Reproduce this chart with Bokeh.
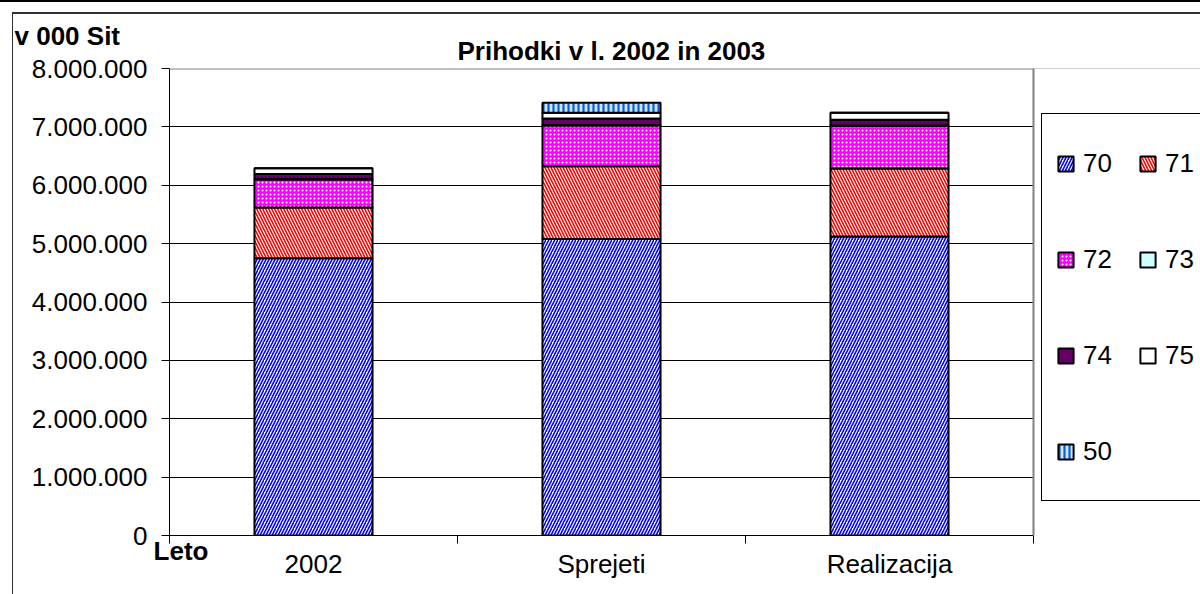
from bokeh.plotting import figure
from bokeh.models import (Range1d, FixedTicker, Legend, LegendItem, Title,
                          LinearAxis, ColumnDataSource, Span, BoxAnnotation)
from bokeh.embed import file_html
from bokeh.resources import INLINE

# ---------------- data ----------------
categories = ["2002", "Sprejeti", "Realizacija"]
series = ["70", "71", "72", "73", "74", "75", "50"]
v70 = [4750000, 5080000, 5120000]
v71 = [870000, 1245000, 1165000]
v72 = [480000, 700000, 730000]
v73 = [8000, 8000, 8000]
v74 = [85000, 110000, 100000]
v75 = [100000, 100000, 120000]
v50 = [0, 170000, 0]
y_ticks = [0, 1000000, 2000000, 3000000, 4000000, 5000000, 6000000, 7000000, 8000000]
y_tick_labels = ["0", "1.000.000", "2.000.000", "3.000.000", "4.000.000",
                 "5.000.000", "6.000.000", "7.000.000", "8.000.000"]
title_text = "Prihodki v l. 2002 in 2003"
y_unit_text = "v 000 Sit"
x_title_text = "Leto"

FONT = "Liberation Sans"

# ---------------- figure ----------------
W, H = 1200, 594
FL, FT, FB = 169, 68, 535      # plot-area edges (px)
PR = 1033                      # right edge of the plot area (px)
ncat = len(categories)
y_max = y_ticks[-1]
# the frame runs to the canvas edge so that the legend (right of the plot area) is not clipped
x_end = ncat * (W - FL) / (PR - FL)

# sheet grid line at the very top and the chart-area border, drawn as page background
bg = ("linear-gradient(#000000,#000000) 0px 0px / 100% 2px no-repeat, "
      "linear-gradient(#303030,#303030) 12px 12px / 100% 2px no-repeat, "
      "linear-gradient(#303030,#303030) 12px 12px / 1px 100% no-repeat, #ffffff")

p = figure(width=W, height=H, output_backend="svg", toolbar_location=None,
           x_range=Range1d(0, x_end), y_range=Range1d(0, y_max),
           min_border_left=FL, min_border_right=0,
           min_border_top=FT, min_border_bottom=H - FB,
           x_axis_location=None, styles={"background": bg})
p.background_fill_color = "white"
p.border_fill_color = None
p.outline_line_color = None

xpos = [i + 0.5 for i in range(ncat)]
src = ColumnDataSource(dict(x=xpos, cat=categories, **{
    "70": v70, "71": v71, "72": v72, "73": v73, "74": v74, "75": v75, "50": v50}))

fills = ["white", "white", "#FF00FF", "#CCFFFF", "#660066", "white", "#CFE6FF"]
hatches = ["/", "\\", ".", " ", " ", " ", "|"]
hcolors = ["#0000FF", "#FF0000", "white", "white", "white", "white", "#0A5ED7"]
hscales = [6, 6, 4, 6, 6, 6, 5]
hweights = [1.6, 1.6, 2.2, 1, 1, 1, 2.2]

rs = p.vbar_stack(series, x="x", width=0.41, source=src,
                  fill_color=fills, hatch_pattern=hatches, hatch_color=hcolors,
                  hatch_scale=hscales, hatch_weight=hweights,
                  line_color="black", line_width=2)

# ---------------- x axes ----------------
leto_x = 0.04
ax_leto = LinearAxis(ticker=FixedTicker(ticks=[leto_x], minor_ticks=list(range(ncat + 1))),
                     major_label_overrides={leto_x: x_title_text}, bounds=(0, ncat))
ax_leto.axis_line_color = "black"
ax_leto.major_tick_out = 0
ax_leto.major_tick_in = 0
ax_leto.minor_tick_out = 8
ax_leto.minor_tick_in = 0
ax_leto.minor_tick_line_color = "black"
ax_leto.major_label_standoff = -8
ax_leto.major_label_text_font = FONT
ax_leto.major_label_text_font_size = "26px"
ax_leto.major_label_text_font_style = "bold"
ax_leto.major_label_text_color = "black"
p.add_layout(ax_leto, "below")

ax_cat = LinearAxis(ticker=FixedTicker(ticks=xpos, minor_ticks=[]),
                    major_label_overrides={x: c for x, c in zip(xpos, categories)},
                    bounds=(0, ncat))
ax_cat.axis_line_color = None
ax_cat.major_tick_line_color = None
ax_cat.minor_tick_line_color = None
ax_cat.major_tick_out = 0
ax_cat.major_tick_in = 0
ax_cat.major_label_standoff = -20
ax_cat.major_label_text_font = FONT
ax_cat.major_label_text_font_size = "26px"
ax_cat.major_label_text_color = "black"
p.add_layout(ax_cat, "below")

# ---------------- y axis ----------------
ya = p.yaxis[0]
ya.ticker = FixedTicker(ticks=y_ticks, minor_ticks=[])
ya.major_label_overrides = {t: l for t, l in zip(y_ticks, y_tick_labels)}
ya.axis_line_color = "black"
ya.major_tick_out = 8
ya.major_tick_in = 0
ya.major_tick_line_color = "black"
ya.minor_tick_line_color = None
ya.major_label_standoff = 14
ya.major_label_text_font = FONT
ya.major_label_text_font_size = "26px"
ya.major_label_text_color = "black"

p.xgrid.grid_line_color = None
p.ygrid.ticker = FixedTicker(ticks=y_ticks[1:-1])
p.ygrid.grid_line_color = "black"
p.ygrid.grid_line_width = 1

# ---------------- plot-area border (grey, top and right) ----------------
p.add_layout(Span(location=y_max, dimension="width", line_color="#808080", line_width=2))
p.add_layout(BoxAnnotation(left=ncat, fill_color="white", fill_alpha=1, line_alpha=0))
p.add_layout(Span(location=ncat, dimension="height", line_color="#808080", line_width=2))

# ---------------- titles ----------------
p.title.text = y_unit_text
p.title.align = "left"
p.title.offset = 14 - FL
p.title.standoff = -38
p.title.text_font = FONT
p.title.text_font_size = "26px"
p.title.text_font_style = "bold"
p.title.text_color = "black"

p.add_layout(Title(text=title_text, align="left", offset=457 - FL, standoff=5,
                   text_font=FONT, text_font_size="26px", text_font_style="bold",
                   text_color="black"), "above")

# ---------------- legend ----------------
legend = Legend(items=[LegendItem(label=series[i], renderers=[rs[i]]) for i in range(len(series))],
                orientation="horizontal", ncols=2,
                location=(1041 - FL, FB - 501),
                padding=14, margin=0, spacing=26,
                glyph_width=19, glyph_height=19, label_height=70, label_width=29,
                label_standoff=8,
                label_text_font=FONT, label_text_font_size="26px",
                label_text_color="black",
                border_line_color="black", border_line_width=1, border_line_alpha=1,
                background_fill_color="white", background_fill_alpha=1)
p.add_layout(legend)

open("out.html", "w").write(file_html(p, INLINE))
